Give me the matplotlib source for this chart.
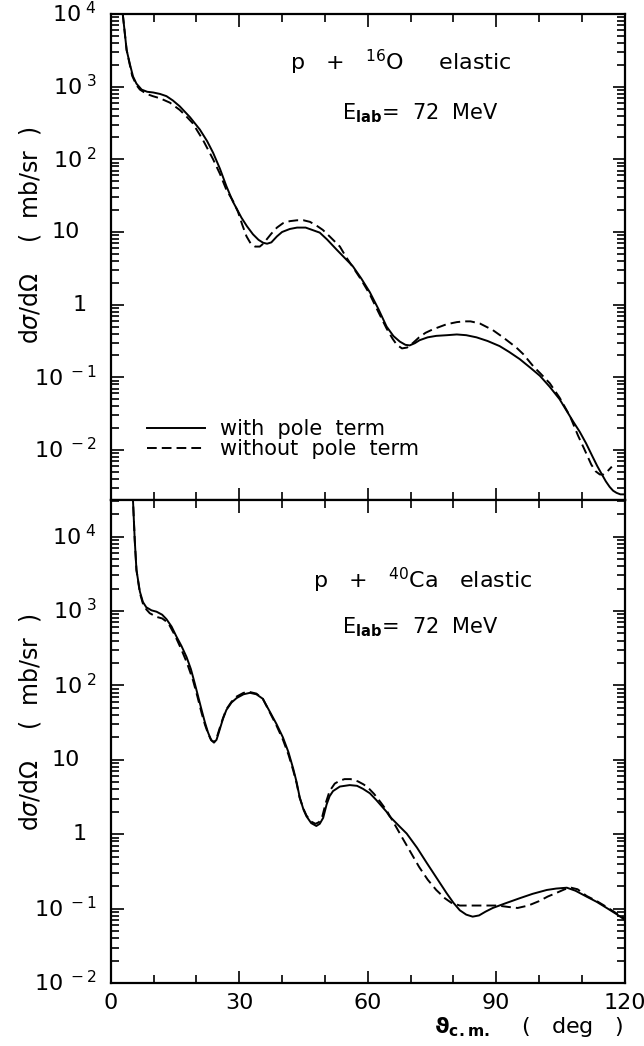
import numpy as np
import matplotlib.pyplot as plt
from matplotlib.ticker import FixedLocator, LogLocator, MultipleLocator, NullFormatter
from matplotlib.transforms import blended_transform_factory

plt.rcParams['font.family'] = ['DejaVu Sans']
plt.rcParams['mathtext.fontset'] = 'dejavusans'

## p + 16O, angle (deg) and dsigma/dOmega (mb/sr)
o16_deg_pole = [2.8, 3.7, 4.5, 5.2, 6.0, 7.2, 8.5, 9.9, 11.5, 13.0, 14.5, 16.1, 18.5, 20.8, 22.5,
                23.9, 25.5, 27.0, 28.5, 30.5, 31.8, 33.2, 34.5, 35.6, 36.5, 37.5, 38.8, 40.0, 41.8,
                43.5, 45.5, 47.0, 48.8, 50.5, 52.7, 55.0, 56.5, 58.5, 60.5, 62.5, 64.4, 66.0, 67.5,
                68.8, 69.8, 71.0, 72.1, 74.0, 76.0, 78.5, 80.8, 83.0, 85.4, 88.0, 90.8, 93.0, 95.5,
                98.0, 100.2, 102.5, 104.8, 107.9, 109.5, 111.0, 112.5, 113.6, 114.6, 115.6, 116.5,
                117.3, 118.1, 119.0, 120.0]
o16_xs_pole = [1.0e4, 3.2e3, 2.0e3, 1.38e3, 1.10e3, 912, 851, 832, 794, 741, 646, 537, 380, 257, 178,
               123, 74, 42.7, 26.3, 15.8, 12.0, 9.3, 7.8, 7.1, 6.9, 7.2, 8.7, 10.0, 11.0,
               11.5, 11.5, 10.7, 9.8, 7.9, 5.75, 4.17, 3.39, 2.29, 1.48, 0.87, 0.50, 0.37, 0.31,
               0.28, 0.275, 0.295, 0.324, 0.355, 0.372, 0.38, 0.389, 0.38, 0.355, 0.316, 0.269, 0.224, 0.178,
               0.135, 0.105, 0.074, 0.050, 0.025, 0.0178, 0.0123, 0.0081, 0.0060, 0.0047, 0.0037, 0.0031,
               0.00275, 0.00257, 0.00245, 0.00245]

o16_deg_nopole = [2.8, 3.7, 5.0, 6.0, 6.8, 8.4, 9.8, 11.5, 13.8, 16.1, 17.5, 19.1, 21.5, 23.9, 25.5,
                  27.0, 28.5, 29.7, 30.7, 31.7, 32.7, 33.7, 34.8, 35.6, 36.4, 37.5, 38.8, 40.2, 41.8,
                  43.5, 45.0, 46.5, 48.0, 49.5, 51.1, 53.5, 55.0, 56.5, 58.5, 60.5, 62.5, 64.4, 65.8,
                  66.8, 68.0, 69.2, 70.5, 72.0, 73.5, 75.2, 78.4, 80.8, 82.5, 84.0, 86.2, 89.2, 91.6,
                  94.7, 96.3, 98.7, 100.2, 102.5, 104.8, 107.2, 109.1, 110.5, 112.2, 113.2, 114.2,
                  115.0, 116.0, 117.0]
o16_xs_nopole = [1.0e4, 3.2e3, 1.41e3, 1.05e3, 912, 794, 741, 692, 603, 479, 398, 316, 186, 100, 63,
                 38, 27, 19, 12.6, 8.7, 6.9, 6.3, 6.3, 6.9, 7.9, 9.5, 11.5, 13.2, 14.1,
                 14.5, 14.5, 13.8, 12.3, 10.7, 8.7, 6.3, 4.47, 3.31, 2.19, 1.38, 0.79, 0.47, 0.34,
                 0.28, 0.25, 0.257, 0.295, 0.355, 0.41, 0.457, 0.537, 0.575, 0.589, 0.589, 0.55, 0.447, 0.355,
                 0.257, 0.209, 0.141, 0.115, 0.083, 0.0525, 0.0295, 0.0158, 0.0105, 0.0063, 0.0051, 0.0046,
                 0.0046, 0.0051, 0.0059]

## p + 40Ca
ca40_deg_pole = [5.1, 5.6, 6.0, 6.8, 7.5, 8.3, 9.5, 10.7, 12.0, 13.0, 14.2, 15.3, 16.5, 17.7, 18.7,
                 19.6, 20.4, 21.2, 22.0, 22.7, 23.4, 24.1, 24.7, 25.4, 26.2, 27.0, 28.2, 29.4, 31.0,
                 32.5, 34.0, 35.5, 37.1, 38.7, 40.2, 41.5, 42.6, 43.4, 44.1, 45.0, 45.7, 46.8, 48.0,
                 48.8, 49.6, 50.4, 51.1, 51.9, 53.5, 55.8, 57.5, 58.9, 60.5, 62.0, 64.4, 65.1, 67.5,
                 69.1, 71.5, 73.8, 76.0, 78.4, 80.0, 81.5, 83.0, 84.5, 86.0, 87.5, 89.2, 92.0, 95.5,
                 98.5, 101.8, 104.0, 106.5, 108.5, 111.1, 113.5, 115.8, 118.0, 120.0]
ca40_xs_pole = [4.0e4, 8.9e3, 3.55e3, 1.82e3, 1.32e3, 1.12e3, 1.02e3, 977, 891, 776, 617, 457, 339, 240, 166,
                107, 71, 47, 31.6, 23.4, 18.6, 17.0, 18.6, 25.1, 35.5, 46.8, 58.9, 67.6, 75.9,
                79.4, 75.9, 66.1, 44.7, 30.2, 20.0, 12.6, 7.6, 5.0, 3.16, 2.14, 1.74, 1.41, 1.29,
                1.38, 1.66, 2.51, 3.24, 3.8, 4.37, 4.57, 4.47, 4.07, 3.55, 2.88, 2.0, 1.74, 1.26,
                1.02, 0.66, 0.41, 0.263, 0.162, 0.120, 0.095, 0.083, 0.078, 0.081, 0.091, 0.102, 0.117, 0.138,
                0.158, 0.178, 0.186, 0.191, 0.174, 0.145, 0.123, 0.102, 0.085, 0.071]

ca40_deg_nopole = [5.1, 5.6, 6.0, 6.8, 7.5, 8.3, 9.1, 10.7, 12.0, 13.4, 15.0, 16.5, 17.8, 19.2, 20.2,
                   21.2, 22.0, 22.8, 23.5, 24.1, 24.7, 25.4, 26.2, 27.0, 28.2, 29.4, 31.0, 32.5, 34.0,
                   35.5, 37.1, 38.7, 40.2, 41.5, 42.6, 43.4, 44.1, 45.0, 45.7, 46.8, 47.8, 48.6, 49.4,
                   50.2, 51.1, 52.3, 53.5, 54.6, 56.0, 57.7, 59.0, 60.0, 61.5, 63.0, 64.4, 66.0, 68.0,
                   70.0, 72.0, 74.0, 76.0, 78.0, 79.5, 81.5, 85.0, 90.3, 93.0, 95.0, 97.5, 100.0, 102.0,
                   104.0, 106.0, 107.5, 109.0, 111.1, 113.5, 115.8, 118.0, 120.0]
ca40_xs_nopole = [4.0e4, 8.9e3, 3.55e3, 1.74e3, 1.26e3, 1.05e3, 933, 832, 794, 692, 468, 302, 200, 117, 72,
                  42.7, 29.5, 21.9, 18.2, 17.4, 19.5, 26.3, 36.3, 47.9, 60.3, 70.8, 79.4, 81.3, 77.6,
                  66.1, 43.7, 28.8, 18.6, 11.7, 7.2, 4.8, 3.09, 2.19, 1.78, 1.48, 1.38, 1.45, 1.74,
                  2.63, 3.8, 4.79, 5.25, 5.5, 5.5, 5.13, 4.68, 4.27, 3.47, 2.69, 2.09, 1.45, 0.91,
                  0.575, 0.363, 0.245, 0.178, 0.138, 0.120, 0.110, 0.110, 0.110, 0.105, 0.102, 0.110, 0.126, 0.145,
                  0.162, 0.182, 0.191, 0.182, 0.148, 0.126, 0.105, 0.087, 0.074]

ytick_vals = [1e-2, 1e-1, 1, 10, 1e2, 1e3, 1e4]
ytick_text = [r'$\mathregular{10^{\ -2}}$', r'$\mathregular{10^{\ -1}}$', '1', '10',
              r'$\mathregular{10^{\ 2}}$', r'$\mathregular{10^{\ 3}}$', r'$\mathregular{10^{\ 4}}$']
xtick_vals = [0, 30, 60, 90, 120]

fig = plt.figure(figsize=(6.44, 10.46), dpi=100)
ax_top = fig.add_axes([0.172, 0.522, 0.798, 0.4646])
ax_bot = fig.add_axes([0.172, 0.0602, 0.798, 0.4618], sharex=ax_top)

dash = (0, (5, 2.6))
ax_top.plot(o16_deg_pole, o16_xs_pole, color='black', lw=1.4, label='with  pole  term')
ax_top.plot(o16_deg_nopole, o16_xs_nopole, color='black', lw=1.4, linestyle=dash,
            label='without  pole  term')
ax_bot.plot(ca40_deg_pole, ca40_xs_pole, color='black', lw=1.4)
ax_bot.plot(ca40_deg_nopole, ca40_xs_nopole, color='black', lw=1.4, linestyle=dash)

ax_top.set_ylim(2.05e-3, 1e4)
ax_bot.set_ylim(1e-2, 3.1e4)
ax_top.set_xlim(0, 120)

for ax in (ax_top, ax_bot):
    ax.set_yscale('log')
    ax.yaxis.set_major_locator(FixedLocator(ytick_vals))
    ax.yaxis.set_minor_locator(LogLocator(base=10, subs=np.arange(2, 10), numticks=20))
    ax.yaxis.set_minor_formatter(NullFormatter())
    ax.xaxis.set_major_locator(FixedLocator(xtick_vals))
    ax.xaxis.set_minor_locator(MultipleLocator(10))
    ax.tick_params(which='both', direction='in', top=True, right=True, width=1.2)
    ax.tick_params(which='major', length=9, labelsize=16, pad=7)
    ax.tick_params(which='minor', length=6)
    ax.tick_params(axis='y', labelleft=False)
    for sp in ax.spines.values():
        sp.set_linewidth(1.6)
    # y labels drawn as text so "1" and "10" sit like the original
    trans = blended_transform_factory(ax.transAxes, ax.transData)
    y0, y1 = ax.get_ylim()
    for v, s in zip(ytick_vals, ytick_text):
        if not (y0 <= v <= y1):
            continue
        xr = -0.027
        if s == '10':
            xr = -0.060
        elif s == '1':
            xr = -0.047
        ax.text(xr, v, s, transform=trans, ha='right', va='center', fontsize=16)

ax_top.tick_params(axis='x', labelbottom=False)

ax_top.text(0.348, 0.901, r'p   +   $\mathregular{^{16}}$O     elastic', transform=ax_top.transAxes,
            fontsize=16, va='center', ha='left')
ax_top.text(0.449, 0.796, r'E$_{\mathbf{lab}}$=  72  MeV', transform=ax_top.transAxes,
            fontsize=15, va='center', ha='left')
ax_bot.text(0.393, 0.834, r'p   +   $\mathregular{^{40}}$Ca   elastic', transform=ax_bot.transAxes,
            fontsize=16, va='center', ha='left')
ax_bot.text(0.449, 0.737, r'E$_{\mathbf{lab}}$=  72  MeV', transform=ax_bot.transAxes,
            fontsize=15, va='center', ha='left')

ax_top.legend(loc='lower left', bbox_to_anchor=(0.05, 0.062), frameon=False, fontsize=15,
              handlelength=2.8, handletextpad=0.7, labelspacing=0.02, borderpad=0)

fig.text(0.047, 0.775, r'd$\sigma$/d$\Omega$    (  mb/sr  )', rotation=90, fontsize=17,
         ha='center', va='center')
fig.text(0.047, 0.309, r'd$\sigma$/d$\Omega$    (  mb/sr  )', rotation=90, fontsize=17,
         ha='center', va='center')
fig.text(0.967, 0.018, r'$\mathbf{\vartheta}_{\mathbf{c.m.}}$    (   deg   )', fontsize=16,
         ha='right', va='center')

fig.savefig('out.png', dpi=100)
